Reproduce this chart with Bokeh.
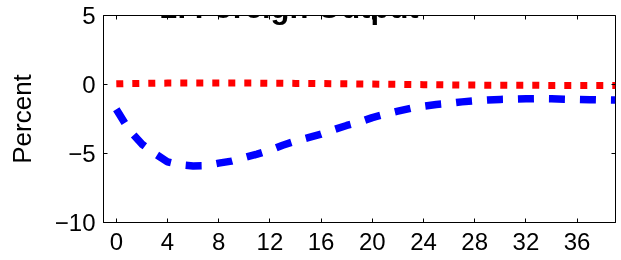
from bokeh.plotting import figure
from bokeh.models import LinearAxis, FixedTicker, Range1d, Label, CustomLabelingPolicy
from bokeh.embed import file_html
from bokeh.resources import INLINE

# ---- data ----
horizon = list(range(40))
output_blue = [-1.80, -3.28, -4.32, -5.00, -5.60, -5.82, -5.90, -5.88, -5.70, -5.55,
               -5.30, -5.05, -4.75, -4.40, -4.10, -3.85, -3.60, -3.27, -2.97, -2.72,
               -2.40, -2.15, -1.93, -1.72, -1.57, -1.45, -1.37, -1.26, -1.18, -1.12,
               -1.08, -1.06, -1.03, -1.02, -1.03, -1.06, -1.08, -1.10, -1.12, -1.13]
output_red = [0.05, 0.07, 0.08, 0.09, 0.10, 0.10, 0.10, 0.10, 0.10, 0.10,
              0.10, 0.10, 0.09, 0.09, 0.08, 0.08, 0.07, 0.06, 0.05, 0.04,
              0.03, 0.02, 0.01, 0.00, -0.01, -0.02, -0.03, -0.04, -0.04, -0.05,
              -0.05, -0.06, -0.06, -0.06, -0.07, -0.07, -0.07, -0.07, -0.07, -0.07]
x_ticks = [0, 4, 8, 12, 16, 20, 24, 28, 32, 36]
y_ticks = [-10, -5, 0, 5]
y_tick_labels = ["\u221210", "\u22125", "0", "5"]
title_text = "2. Foreign Output"
y_label = "Percent"

FONT = "Liberation Sans"

p = figure(width=621, height=260,
           x_range=Range1d(-1, 39), y_range=Range1d(-10, 5),
           output_backend="svg", toolbar_location=None,
           min_border_left=103, min_border_right=4,
           min_border_top=15, min_border_bottom=38)
p.styles = {"position": "fixed", "top": "0px", "left": "0px"}
p.xgrid.visible = False
p.ygrid.visible = False
p.outline_line_color = "black"
p.outline_line_width = 1
p.background_fill_color = "white"
p.border_fill_color = "white"

p.line(horizon, output_blue, line_color="#0000ff", line_width=7.5, line_dash="16 15")
p.line(horizon, output_red, line_color="#ff0000", line_width=7, line_dash="7 9")

xa = p.xaxis[0]
xa.ticker = FixedTicker(ticks=x_ticks)
ya = p.yaxis[0]
ya.ticker = FixedTicker(ticks=y_ticks)
ya.major_label_overrides = {k: v for k, v in zip(y_ticks, y_tick_labels)}

for ax in (xa, ya):
    ax.axis_line_color = "black"
    ax.major_tick_in = 4
    ax.major_tick_out = 0
    ax.minor_tick_in = 0
    ax.minor_tick_out = 0
    ax.major_tick_line_color = "black"
    ax.major_label_text_font = FONT
    ax.major_label_text_font_size = "24px"
    ax.major_label_text_color = "black"

xa.major_label_standoff = 10
ya.major_label_standoff = 8
ya.axis_label = y_label
ya.axis_label_text_font = FONT
ya.axis_label_text_font_style = "normal"
ya.axis_label_text_font_size = "26px"
ya.axis_label_text_color = "black"
ya.axis_label_standoff = 15

# mirrored inward ticks on the top and right edges (no labels)
top_ax = LinearAxis(ticker=FixedTicker(ticks=x_ticks))
right_ax = LinearAxis(ticker=FixedTicker(ticks=y_ticks))
for ax in (top_ax, right_ax):
    ax.axis_line_color = None
    ax.major_tick_in = 4
    ax.major_tick_out = 0
    ax.minor_tick_in = 0
    ax.minor_tick_out = 0
    ax.major_tick_line_color = "black"
    ax.major_label_text_font_size = "2px"
    ax.major_label_standoff = 0
    ax.major_label_policy = CustomLabelingPolicy(code="return new Set()")
p.add_layout(top_ax, "above")
p.add_layout(right_ax, "right")

title_lbl = Label(x=13.53, y=5.58, text=title_text, text_align="center",
                  text_baseline="alphabetic", text_font=FONT,
                  text_font_style="bold", text_font_size="31px",
                  text_color="black")
p.add_layout(title_lbl)

open("out.html", "w").write(file_html(p, INLINE))
